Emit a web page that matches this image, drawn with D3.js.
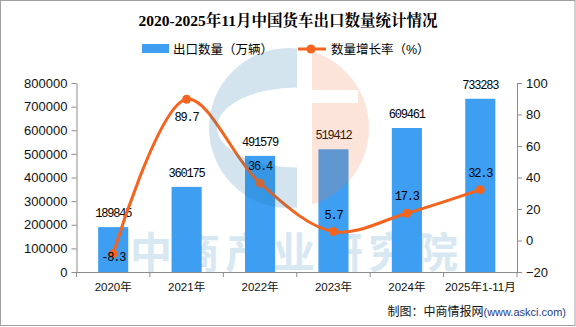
<!DOCTYPE html>
<html>
<head>
<meta charset="utf-8">
<script src="https://cdn.jsdelivr.net/npm/d3@7/dist/d3.min.js"></script>
<style>
  body { margin: 0; background: #fff; }
  svg { display: block; }
</style>
</head>
<body>
<div id="chart"></div>
<script>
const width = 576;
const height = 327;

// data
const categories = ["2020年", "2021年", "2022年", "2023年", "2024年", "2025年1-11月"];
const exportVolume = [189845, 360175, 491579, 519412, 609461, 733283];
const growthRate = [-8.3, 89.7, 36.4, 5.7, 17.3, 32.3];
const leftTicks = [0, 100000, 200000, 300000, 400000, 500000, 600000, 700000, 800000];
const rightTicks = [-20, 0, 20, 40, 60, 80, 100];

const barColor = "#3d9ef2";
const lineColor = "#f5641e";
const axisColor = "#8c8c8c";
const cjk = "'Liberation Sans', 'Noto Sans CJK SC', sans-serif";
const mono = "'Liberation Mono', 'Noto Sans CJK SC', monospace";

const svg = d3
  .select("#chart")
  .append("svg")
  .attr("width", width)
  .attr("height", height);

const x = d3
  .scaleBand()
  .domain(categories)
  .range([76.5, 517])
  .paddingInner(0.59)
  .paddingOuter(0.295);
const yLeft = d3.scaleLinear().domain([0, 800000]).range([272, 83]);
const yRight = d3.scaleLinear().domain([-20, 100]).range([272, 83]);

// watermark text (behind everything)
svg
  .append("text")
  .attr("x", 294)
  .attr("y", 268)
  .attr("text-anchor", "middle")
  .attr("textLength", 328)
  .attr("lengthAdjust", "spacing")
  .style("font-family", "'Noto Sans CJK SC', sans-serif")
  .style("font-weight", "bold")
  .style("font-size", "42px")
  .attr("fill", "#d8e8f2")
  .text("中商产业研究院");

// title
svg
  .append("text")
  .attr("x", 288)
  .attr("y", 26)
  .attr("text-anchor", "middle")
  .style("font-family", "'Liberation Serif', 'Noto Serif CJK SC', 'Noto Sans CJK SC', serif")
  .style("font-weight", "bold")
  .style("font-size", "15.5px")
  .text("2020-2025年11月中国货车出口数量统计情况");

// legend
const legend = svg.append("g").style("font-family", cjk).style("font-size", "12.5px");
legend.append("rect").attr("x", 142).attr("y", 44).attr("width", 27).attr("height", 9).attr("fill", barColor);
legend.append("text").attr("x", 173).attr("y", 53.5).text("出口数量（万辆）");
legend
  .append("line")
  .attr("x1", 298)
  .attr("x2", 326)
  .attr("y1", 49)
  .attr("y2", 49)
  .attr("stroke", lineColor)
  .attr("stroke-width", 3);
legend.append("circle").attr("cx", 311).attr("cy", 49).attr("r", 4.5).attr("fill", lineColor);
legend.append("text").attr("x", 331).attr("y", 53.5).text("数量增长率（%）");

// bars
svg
  .selectAll(".bar")
  .data(exportVolume)
  .enter()
  .append("rect")
  .attr("class", "bar")
  .attr("x", (d, i) => x(categories[i]))
  .attr("y", (d) => yLeft(d))
  .attr("width", x.bandwidth())
  .attr("height", (d) => yLeft(0) - yLeft(d))
  .attr("fill", barColor);

// axes
const leftAxis = svg
  .append("g")
  .attr("transform", "translate(76.5,0)")
  .call(
    d3
      .axisLeft(yLeft)
      .tickValues(leftTicks)
      .tickFormat(d3.format("d"))
      .tickSize(5)
      .tickSizeOuter(0)
      .tickPadding(4)
  );
const rightAxis = svg
  .append("g")
  .attr("transform", "translate(517,0)")
  .call(d3.axisRight(yRight).tickValues(rightTicks).tickSize(5).tickSizeOuter(0).tickPadding(4));
const bottomAxis = svg
  .append("g")
  .attr("transform", "translate(0,272)")
  .call(d3.axisBottom(x).tickSize(0).tickSizeOuter(0).tickPadding(11));

[leftAxis, rightAxis].forEach((g) => {
  g.selectAll("text").style("font-family", cjk).style("font-size", "13px").attr("fill", "#111");
});
bottomAxis.selectAll("text").style("font-family", cjk).style("font-size", "11.5px").attr("fill", "#111");
[leftAxis, rightAxis, bottomAxis].forEach((g) => {
  g.selectAll("path, line").attr("stroke", axisColor);
});

// category boundary ticks on the x axis
const boundaries = d3.range(categories.length + 1).map((i) => x.range()[0] + i * x.step());
svg
  .selectAll(".xtick")
  .data(boundaries)
  .enter()
  .append("line")
  .attr("class", "xtick")
  .attr("x1", (d) => d)
  .attr("x2", (d) => d)
  .attr("y1", 272)
  .attr("y2", 277)
  .attr("stroke", axisColor);

// bar value labels
svg
  .selectAll(".barlabel")
  .data(exportVolume)
  .enter()
  .append("text")
  .attr("class", "barlabel")
  .attr("x", (d, i) => x(categories[i]) + x.bandwidth() / 2)
  .attr("y", (d) => yLeft(d) - 10)
  .attr("text-anchor", "middle")
  .style("font-family", mono)
  .style("font-size", "12px")
  .style("letter-spacing", "-1.2px")
  .text((d) => d);

// growth line
const cx = (i) => x(categories[i]) + x.bandwidth() / 2;
const line = d3
  .line()
  .x((d, i) => cx(i))
  .y((d) => yRight(d))
  .curve(d3.curveCatmullRom.alpha(0.5));

svg
  .append("path")
  .datum(growthRate)
  .attr("d", line)
  .attr("fill", "none")
  .attr("stroke", lineColor)
  .attr("stroke-width", 3);

svg
  .selectAll(".dot")
  .data(growthRate)
  .enter()
  .append("circle")
  .attr("class", "dot")
  .attr("cx", (d, i) => cx(i))
  .attr("cy", (d) => yRight(d))
  .attr("r", 4.5)
  .attr("fill", lineColor);

const maxRate = d3.max(growthRate);
svg
  .selectAll(".ratelabel")
  .data(growthRate)
  .enter()
  .append("text")
  .attr("class", "ratelabel")
  .attr("x", (d, i) => cx(i))
  .attr("y", (d, i) => {
    if (i === 0) return yRight(d) + 7; // sits on the point
    if (d === maxRate) return yRight(d) + 22; // below the peak
    return yRight(d) - 13;
  })
  .attr("text-anchor", "middle")
  .style("font-family", mono)
  .style("font-size", "12px")
  .style("letter-spacing", "-1.2px")
  .text((d) => d.toFixed(1));

// logo watermark on top
const defs = svg.append("defs");
defs.append("clipPath").attr("id", "clipL").append("rect").attr("x", 0).attr("y", 0).attr("width", 297).attr("height", height);
defs.append("clipPath").attr("id", "clipR").append("rect").attr("x", 312).attr("y", 0).attr("width", 100).attr("height", height);

const lcx = 289, lcy = 128, lr = 80;
const circlePath = `M${lcx - lr},${lcy}a${lr},${lr} 0 1,0 ${2 * lr},0a${lr},${lr} 0 1,0 ${-2 * lr},0Z`;
const innerPath = `M217,127.5a80,40 0 1,0 160,0a80,40 0 1,0 -160,0Z`;
svg
  .append("path")
  .attr("d", circlePath + innerPath)
  .attr("fill-rule", "evenodd")
  .attr("clip-path", "url(#clipL)")
  .attr("fill", "rgb(35,120,170)")
  .attr("fill-opacity", 0.2);
svg
  .append("path")
  .attr("d", circlePath + "M312,90h46v13h-46Z")
  .attr("fill-rule", "evenodd")
  .attr("clip-path", "url(#clipR)")
  .attr("fill", "rgb(240,120,70)")
  .attr("fill-opacity", 0.2);

// source note
const note = svg
  .append("text")
  .attr("x", 566)
  .attr("y", 316)
  .attr("text-anchor", "end")
  .style("font-family", cjk);
note.append("tspan").style("font-size", "12px").attr("fill", "#111").text("制图：中商情报网");
note.append("tspan").style("font-size", "11px").attr("fill", "#1f3a8a").text("(www.askci.com)");

// frame
svg
  .append("rect")
  .attr("x", 0.5)
  .attr("y", 0.5)
  .attr("width", 574.5)
  .attr("height", 325)
  .attr("fill", "none")
  .attr("stroke", "#a0a0a0");
</script>
</body>
</html>
